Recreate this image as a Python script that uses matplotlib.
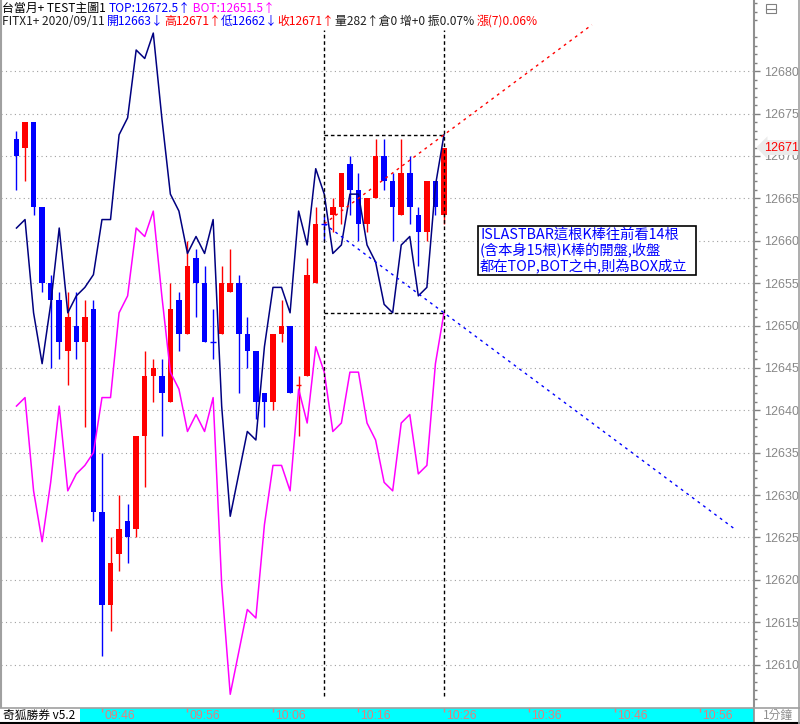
import numpy as np
import matplotlib
matplotlib.use("Agg")
import matplotlib.pyplot as plt
from matplotlib.patches import Rectangle
from matplotlib.lines import Line2D
from matplotlib.ticker import FixedLocator, NullLocator
import matplotlib.transforms as mtransforms

CJK = ['Noto Sans CJK TC', 'DejaVu Sans']
NUM = ['Liberation Sans', 'DejaVu Sans']

# 1 分鐘 K 棒, 09:36 ~ 10:26
opens = [12672, 12671, 12674, 12664, 12655, 12653, 12647, 12650, 12648, 12652,
         12628, 12617, 12623, 12627, 12626, 12637, 12644, 12644, 12641, 12653,
         12649, 12658, 12655, 12648, 12649, 12654, 12655, 12649, 12647, 12642,
         12641, 12649, 12650, 12643, 12644, 12655, 12662, 12663, 12664, 12669,
         12666, 12662, 12665, 12670, 12667, 12663, 12668, 12663, 12661, 12667,
         12663]
highs = [12673, 12674, 12674, 12664, 12656, 12654, 12654, 12654, 12653, 12653,
         12635, 12625, 12630, 12629, 12637, 12647, 12646, 12646, 12655, 12654,
         12660, 12659, 12657, 12652, 12657, 12659, 12656, 12651, 12647, 12642,
         12649, 12653, 12650, 12644, 12658, 12664, 12663, 12665, 12668, 12670,
         12668, 12665, 12672, 12672, 12668, 12672, 12670, 12664, 12667, 12667,
         12671]
lows = [12666, 12667, 12663, 12654, 12645, 12646, 12643, 12646, 12638, 12627,
        12611, 12614, 12621, 12622, 12625, 12631, 12641, 12637, 12641, 12647,
        12649, 12651, 12648, 12646, 12649, 12654, 12642, 12645, 12639, 12638,
        12640, 12648, 12642, 12637, 12644, 12655, 12660, 12661, 12662, 12663,
        12660, 12661, 12665, 12666, 12660, 12663, 12662, 12657, 12660, 12663,
        12662]
closes = [12670, 12674, 12664, 12655, 12653, 12648, 12651, 12648, 12651, 12628,
          12617, 12622, 12626, 12625, 12637, 12644, 12645, 12642, 12652, 12649,
          12657, 12655, 12648, 12648, 12655, 12655, 12649, 12647, 12641, 12641,
          12649, 12650, 12642, 12643, 12656, 12662, 12662, 12664, 12668, 12666,
          12662, 12665, 12670, 12667, 12664, 12668, 12664, 12661, 12667, 12664,
          12671]

# TOP / BOT 線
top_line = [12661.5, 12662.5, 12651.5, 12645.5, 12652.5, 12661.5, 12651.5, 12653.5, 12654.5, 12656.0,
            12662.5, 12662.5, 12672.5, 12674.5, 12682.5, 12681.5, 12684.5, 12674.5, 12665.5, 12663.5,
            12658.5, 12660.5, 12658.5, 12662.5, 12640.5, 12627.5, 12632.5, 12637.5, 12636.5, 12647.5,
            12654.5, 12654.5, 12651.5, 12663.5, 12659.5, 12668.5, 12665.5, 12658.5, 12659.5, 12665.5,
            12665.5, 12659.5, 12657.5, 12652.5, 12651.5, 12659.5, 12660.5, 12653.5, 12654.5, 12666.5,
            12672.5]
bot_line = [12640.5, 12641.5, 12630.5, 12624.5, 12631.5, 12640.5, 12630.5, 12632.5, 12633.5, 12635.0,
            12641.5, 12641.5, 12651.5, 12653.5, 12661.5, 12660.5, 12663.5, 12653.5, 12644.5, 12642.5,
            12637.5, 12639.5, 12637.5, 12641.5, 12619.5, 12606.5, 12611.5, 12616.5, 12615.5, 12626.5,
            12633.5, 12633.5, 12630.5, 12642.5, 12638.5, 12647.5, 12644.5, 12637.5, 12638.5, 12644.5,
            12644.5, 12638.5, 12636.5, 12631.5, 12630.5, 12638.5, 12639.5, 12632.5, 12633.5, 12645.5,
            12651.5]

box_start = 36          # 往前看14根
red_end = 67.3           # 延伸線終點 (K棒序號)
blue_end = 84.1

time_ticks = [10, 20, 30, 40, 50, 60, 70, 80]
time_labels = ['09:46', '09:56', '10:06', '10:16', '10:26', '10:36', '10:46', '10:56']

W, H = 800, 724
fig = plt.figure(figsize=(W / 100, H / 100), dpi=100)
fig.patch.set_facecolor('white')

def fx(x):
    return x / W

def fy(y):
    return 1 - y / H

ax = fig.add_axes([fx(1), fy(707), 753 / W, 707 / H])
ax.set_facecolor('white')
ax.set_xlim(-1.81, 86.26)
ax.set_ylim(12605.0, 12688.4)

n = len(opens)
idx = np.arange(n)
o = np.array(opens); c = np.array(closes)
colors = []
for i in range(n):
    if c[i] > o[i]:
        colors.append('#FF0000')
    elif c[i] < o[i]:
        colors.append('#0000FF')
    else:
        colors.append('#FF0000' if i > 0 and c[i] > c[i - 1] else '#0000FF')

ax.vlines(idx, lows, highs, colors=colors, lw=1.0, zorder=3)
body_h = np.abs(c - o)
ax.bar(idx, body_h, bottom=np.minimum(o, c), width=0.64, color=colors, zorder=4, lw=0)
doji = body_h == 0
ax.hlines(c[doji], idx[doji] - 0.33, idx[doji] + 0.33, colors=np.array(colors)[doji], lw=1.0, zorder=4)

ax.plot(idx, top_line, color='#000080', lw=1.1, zorder=5)
ax.plot(idx, bot_line, color='#FF00FF', lw=1.1, zorder=5)

# BOX
last = n - 1
box_top = top_line[-1]
box_bot = bot_line[-1]
dash = (0, (2.6, 2.0))
ax.plot([box_start, last], [box_top, box_top], color='black', lw=1.0, ls=dash, zorder=6)
ax.plot([box_start, last], [box_bot, box_bot], color='black', lw=1.0, ls=dash, zorder=6)
for xv in (box_start, last):
    ax.axvline(xv, ymin=0.016, ymax=0.957, color='black', lw=1.0, ls=dash, zorder=6)

mid = (box_top + box_bot) / 2
slope = (box_top - mid) / (last - box_start)
ax.plot([box_start, red_end], [mid, mid + slope * (red_end - box_start)],
        color='#FF0000', lw=1.0, ls=(0, (2.0, 3.0)), zorder=6)
ax.plot([box_start, blue_end], [mid, mid - slope * (blue_end - box_start)],
        color='#0000FF', lw=1.0, ls=(0, (2.0, 3.0)), zorder=6)

# 座標軸
for s in ('top', 'bottom'):
    ax.spines[s].set_visible(False)
ax.spines['left'].set_color('#A0A0A0')
ax.spines['left'].set_linewidth(1.5)
ax.spines['right'].set_color('#909090')
ax.spines['right'].set_linewidth(1.5)
ax.xaxis.set_major_locator(NullLocator())
ax.yaxis.tick_right()
ax.yaxis.set_major_locator(FixedLocator(np.arange(12610, 12681, 5)))
ax.yaxis.set_minor_locator(FixedLocator([v for v in range(12606, 12689) if v % 5]))
ax.tick_params(axis='y', which='major', length=4, width=1, color='#808080',
               labelcolor='#888888', labelsize=9, pad=3.5)
ax.tick_params(axis='y', which='minor', length=2, width=1, color='#808080')
for lab in ax.get_yticklabels():
    lab.set_family(NUM)
ax.grid(axis='y', which='major', color='#A0A0A0', lw=0.8, ls=(0, (1, 3)))
ax.set_axisbelow(True)

trans = mtransforms.blended_transform_factory(ax.transAxes, ax.transData)
ax.text(1.0135, closes[-1], str(closes[-1]), transform=trans, color='#FF0000',
        fontsize=9, family=NUM, va='center', ha='left', zorder=20, clip_on=False,
        bbox=dict(boxstyle='larrow,pad=0.12', fc='#EBEBEB', ec='none'))

# 小圖示
fig.add_artist(Rectangle((fx(766), fy(13)), 10 / W, 9 / H, fill=False, ec='#808080', lw=0.8))
fig.add_artist(Line2D([fx(766), fx(776)], [fy(8.5), fy(8.5)], color='#808080', lw=0.8))

# 時間軸
ax2 = fig.add_axes([fx(1), fy(722), 753 / W, 14 / H], sharex=ax)
ax2.set_facecolor('#00FFFF')
ax2.set_ylim(0, 1)
ax2.axis('off')
ax2.add_patch(Rectangle((0, 0), 1, 1, transform=ax2.transAxes, fc='#00FFFF', ec='none', zorder=0))
ax2.add_patch(Rectangle((0, 0), 79 / 753, 1, transform=ax2.transAxes, fc='white', ec='none', zorder=1))
ax2.text(0.003, 0.45, '奇狐勝券 v5.2', transform=ax2.transAxes, fontsize=8.5, family=CJK,
         color='black', va='center', ha='left', zorder=2)
for t, lab in zip(time_ticks, time_labels):
    ax2.vlines(t, 0.72, 1.0, color='#E08080', lw=1.0, zorder=2)
    ax2.text(t + 0.25, 0.42, lab, fontsize=8.8, family=NUM, color='#E08080',
             va='center', ha='left', zorder=2)

fig.add_artist(Line2D([0, fx(754)], [fy(707.5), fy(707.5)], color='#A0A0A0', lw=1.2))
fig.add_artist(Line2D([fx(754), fx(754)], [fy(707), fy(722)], color='#909090', lw=1.2))
fig.add_artist(Line2D([0, 1], [fy(722.5), fy(722.5)], color='black', lw=1.5))
fig.add_artist(Line2D([fx(799.3), fx(799.3)], [0, 1], color='#A0A0A0', lw=1.2))
fig.add_artist(Line2D([fx(754), 1], [fy(707.5), fy(707.5)], color='#A0A0A0', lw=1.2))
fig.text(fx(763), fy(715), '1分鐘', fontsize=8.5, family=CJK, color='#909090', va='center', ha='left')

# 標題列
renderer = fig.canvas.get_renderer()

def runs(x, y, parts, size=8.6):
    for s, col in parts:
        t = fig.text(fx(x), fy(y), s, color=col, fontsize=size, family=CJK, va='baseline', ha='left')
        x += t.get_window_extent(renderer).width

runs(2, 12, [('台當月+ TEST主圖1 ', 'black'), ('TOP:12672.5↑', '#0000FF'),
             (' BOT:12651.5↑', '#FF00FF')])
runs(2, 25, [('FITX1+ 2020/09/11 ', '#202020'), ('開12663↓', '#0000FF'), ('高12671↑', '#FF0000'),
             ('低12662↓', '#0000FF'), ('收12671↑', '#FF0000'),
             ('量282↑倉0 增+0 振0.07% ', '#202020'), ('漲(7)0.06%', '#FF0000')])

# 說明框
fig.add_artist(Rectangle((fx(478), fy(275)), 218 / W, 49 / H, fc='white', ec='black', lw=1.2, zorder=20))
note = ['ISLASTBAR這根K棒往前看14根', '(含本身15根)K棒的開盤,收盤', '都在TOP,BOT之中,則為BOX成立']
for k, line in enumerate(note):
    fig.text(fx(480), fy(235 + 16 * k), line, fontsize=10.3, family=CJK, color='#0000FF',
             va='center', ha='left', zorder=21)

fig.savefig('out.png', dpi=100)
